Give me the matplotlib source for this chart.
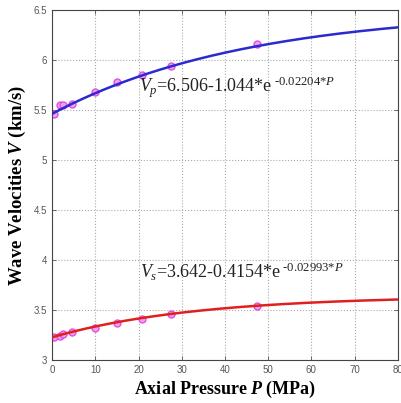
import numpy as np
import matplotlib
matplotlib.use("Agg")
import matplotlib.pyplot as plt

plt.rcParams['mathtext.fontset'] = 'custom'
plt.rcParams['mathtext.rm'] = 'Liberation Serif'
plt.rcParams['mathtext.it'] = 'Liberation Serif:italic'
plt.rcParams['mathtext.bf'] = 'Liberation Serif:bold'
plt.rcParams['mathtext.bfit'] = 'Liberation Serif:italic:bold'

# measured data
pressure = [0.5, 1.8, 2.6, 4.5, 10.0, 15.0, 20.7, 27.5, 47.5]
vp_meas = [5.46, 5.55, 5.55, 5.56, 5.68, 5.78, 5.85, 5.94, 6.16]
vs_meas = [3.23, 3.24, 3.26, 3.28, 3.32, 3.37, 3.41, 3.46, 3.54]

# fit coefficients printed on the chart: V = a - b*exp(-c*P)
vp_fit = (6.506, 1.044, 0.02204)
vs_fit = (3.642, 0.4154, 0.02993)

xticks = [0, 10, 20, 30, 40, 50, 60, 70, 80]
yticks = [3, 3.5, 4, 4.5, 5, 5.5, 6, 6.5]

fig = plt.figure(figsize=(4.01, 4.03), dpi=100)
ax = fig.add_axes([0.13, 0.107, 0.862, 0.868])

P = np.linspace(0, 80, 300)
for (a, b, c), meas, col in [(vp_fit, vp_meas, '#2a2ad0'), (vs_fit, vs_meas, '#e02020')]:
    ax.plot(pressure, meas, 'o', ms=5, mfc='#f0a0f0', mec='#e050e0', mew=1, zorder=2)
    ax.plot(P, a - b * np.exp(-c * P), '-', color=col, lw=1.8, zorder=3)

ax.set_xlim(0, 80)
ax.set_ylim(3, 6.5)
ax.set_xticks(xticks)
ax.set_yticks(yticks)
ax.set_xticklabels([str(t) for t in xticks])
ax.set_yticklabels(['3', '3.5', '4', '4.5', '5', '5.5', '6', '6.5'])
ax.tick_params(direction='in', top=True, right=True, length=3, width=0.6,
               labelsize=7, labelcolor='#555555', colors='#555555')
for lab in ax.get_xticklabels() + ax.get_yticklabels():
    lab.set_family('Liberation Sans')
ax.grid(True, linestyle=':', color='#aaaaaa', lw=0.8)
for s in ax.spines.values():
    s.set_color('#444444')
    s.set_linewidth(0.8)

ax.text(20.0, 5.68, r'$V_p\text{=6.506-1.044*e}^{\text{ -0.02204*}P}$',
        fontsize=13, color='#222222', va='baseline')
ax.text(20.4, 3.82, r'$V_s\text{=3.642-0.4154*e}^{\text{ -0.02993*}P}$',
        fontsize=13, color='#222222', va='baseline')

ax.set_xlabel(r'$\mathbf{Axial\ Pressure\ }\mathbfit{P}\mathbf{\ (MPa)}$', fontsize=13, labelpad=3)
ax.set_ylabel(r'$\mathbf{Wave\ Velocities\ }\mathbfit{V}\mathbf{\ (km/s)}$', fontsize=13.5, labelpad=4)

fig.savefig('out.png', dpi=100)
